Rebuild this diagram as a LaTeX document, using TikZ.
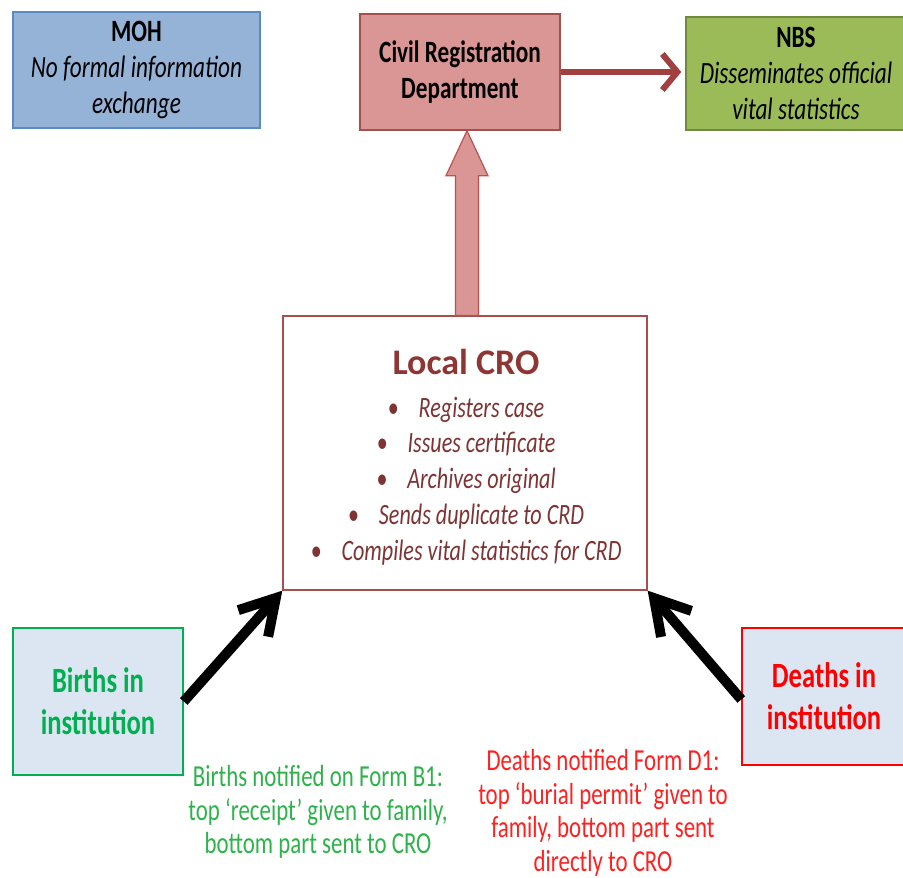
\documentclass[tikz,border=0pt]{standalone}
\usepackage{fontspec}
\setmainfont{Carlito}
\newfontfamily\nar{Carlito}[FakeStretch=0.75]
\usetikzlibrary{arrows.meta,calc}
\definecolor{mohfill}{HTML}{95B3D7}
\definecolor{mohline}{HTML}{5B8BC5}
\definecolor{crdfill}{HTML}{D99694}
\definecolor{crdline}{HTML}{A5504D}
\definecolor{nbsfill}{HTML}{9BBB59}
\definecolor{nbsline}{HTML}{71893F}
\definecolor{darkred}{HTML}{A04040}
\definecolor{crotitle}{HTML}{8E3634}
\definecolor{crotext}{HTML}{7F3333}
\definecolor{uparrowline}{HTML}{C0504D}
\definecolor{instfill}{HTML}{DCE6F2}
\definecolor{bgreen}{HTML}{00B050}
\definecolor{capgreen}{HTML}{2DB34A}
\definecolor{dred}{HTML}{FF0000}
\definecolor{capred}{HTML}{FF2020}
\begin{document}
\begin{tikzpicture}[x=1pt,y=-1pt,
  box/.style={draw, line width=1.5pt, inner sep=0pt, align=center},
  topfont/.style={font=\nar\fontsize{31}{36}\selectfont},
  instfont/.style={font=\nar\fontsize{35.5}{42}\selectfont\bfseries},
  capfont/.style={font=\nar\fontsize{30.5}{33.5}\selectfont, align=center, inner sep=0pt},
  blackarrow/.style={line width=10pt, -{Straight Barb[length=34pt,width=40pt]}},
  redarrow/.style={line width=6pt, draw=darkred, -{Straight Barb[length=15pt,width=36pt]}}
]
\useasboundingbox (0,0) rectangle (903,878);
\fill[white] (0,0) rectangle (903,878);

% top boxes
\node[box, topfont, fill=mohfill, draw=mohline, minimum width=247pt, minimum height=116pt] (moh) at (136.5,70)
  {\textbf{MOH}\\ \textit{No formal information}\\ \textit{exchange}};
\node[box, topfont, fill=crdfill, draw=crdline, minimum width=200pt, minimum height=116pt] (crd) at (460,72)
  {\textbf{Civil Registration}\\ \textbf{Department}};
\node[box, topfont, fill=nbsfill, draw=nbsline, minimum width=220pt, minimum height=113pt] (nbs) at (796,73.5)
  {\textbf{NBS}\\ \textit{Disseminates official}\\ \textit{vital statistics}};

% local CRO
\node[box, draw=crdline, line width=1.3pt, fill=white, minimum width=364pt, minimum height=274pt] (cro) at (465,453) {};
\node[font=\fontsize{36}{40}\selectfont\bfseries, text=crotitle, inner sep=0pt] (crot) at (466,362) {Local CRO};
\node[font=\nar\fontsize{29.5}{35.8}\selectfont\itshape, text=crotext, align=center, inner sep=0pt] (crol) at (466,481)
  {\textbullet\hspace{20pt}Registers case\\
   \textbullet\hspace{20pt}Issues certificate\\
   \textbullet\hspace{20pt}Archives original\\
   \textbullet\hspace{20pt}Sends duplicate to CRD\\
   \textbullet\hspace{20pt}Compiles vital statistics for CRD};

% up block arrow
\coordinate (ua) at ($(cro.north)+(2,0)$);
\coordinate (ub) at (ua |- crd.south);
\filldraw[fill=crdfill, draw=uparrowline, line width=1.2pt, line join=miter]
  ($(ua)+(-11.5,0)$) -- ($(ub)+(-11.5,45)$) -- ($(ub)+(-21,45)$) -- (ub)
  -- ($(ub)+(21,45)$) -- ($(ub)+(11.5,45)$) -- ($(ua)+(11.5,0)$) -- cycle;

% CRD -> NBS
\draw[redarrow] (crd.east) -- ($(nbs.west)+(-4,-1.5)$);

% institution boxes
\node[box, instfont, fill=instfill, draw=bgreen, text=bgreen, minimum width=170pt, minimum height=147pt] (births) at (98,701.5)
  {Births in\\ institution};
\node[box, instfont, fill=instfill, draw=dred, text=dred, minimum width=164pt, minimum height=137pt] (deaths) at (824,696.5)
  {Deaths in\\ institution};

% black arrows
\draw[blackarrow] (births.east) -- (cro.south west);
\draw[blackarrow] ($(deaths.west)+(0,3)$) -- (cro.south east);

% captions
\node[capfont, text=capgreen] (bcap) at (318,812)
  {Births notified on Form B1:\\ top ‘receipt’ given to family,\\ bottom part sent to CRO};
\node[capfont, text=capred] (dcap) at (603,813)
  {Deaths notified Form D1:\\ top ‘burial permit’ given to\\ family, bottom part sent\\ directly to CRO};
\end{tikzpicture}
\end{document}
